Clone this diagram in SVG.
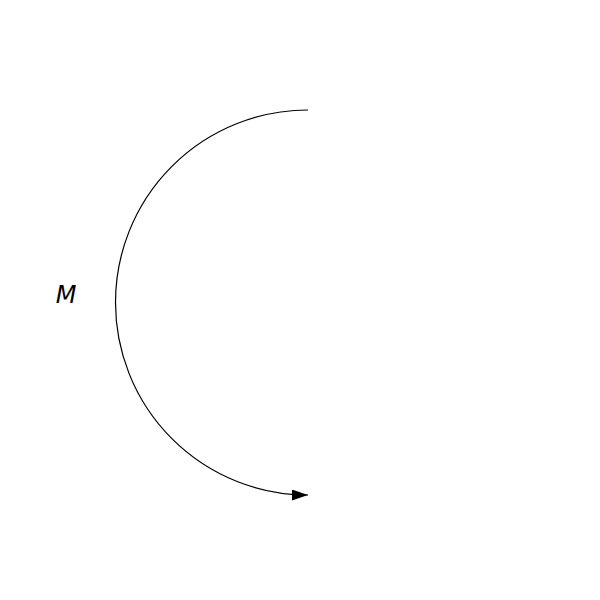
<svg xmlns="http://www.w3.org/2000/svg" width="600" height="600" viewBox="0 0 600 600">
<style>
.conn{fill:none;stroke:#000;stroke-width:1.2}
.lbl{font-family:"DejaVu Sans",sans-serif;font-style:italic;font-size:24px;fill:#000}
</style>
<defs>
<marker id="ah" markerUnits="userSpaceOnUse" markerWidth="16" markerHeight="11" refX="16" refY="5.5" orient="auto">
<path d="M0,0 L16,5.5 L0,11 Z" fill="#000"/>
</marker>
</defs>
<rect width="600" height="600" fill="#fff"/>
<g id="connectors">
<path class="conn" d="M308,110 A192.5,192.5 0 0 0 308,495" marker-end="url(#ah)"/>
</g>
<g id="label-M">
<text class="lbl" x="66" y="302.5" text-anchor="middle">M</text>
</g>
</svg>
